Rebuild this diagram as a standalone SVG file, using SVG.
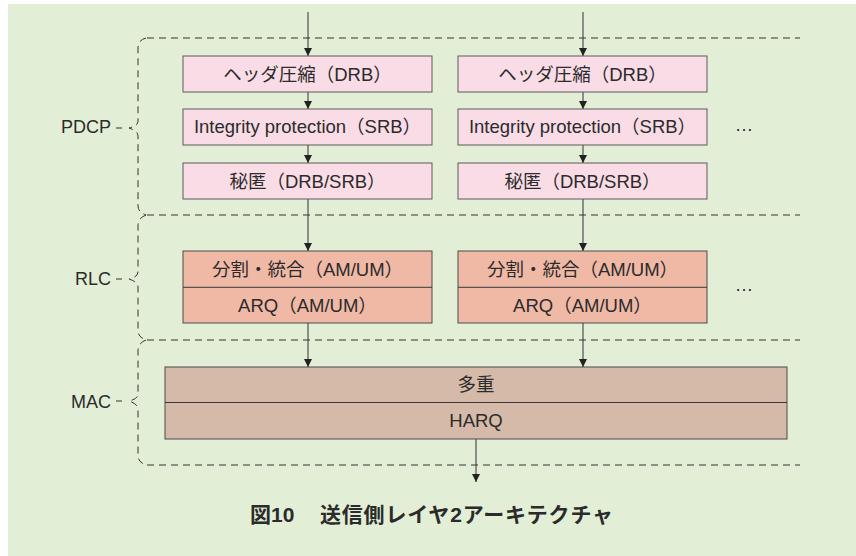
<svg xmlns="http://www.w3.org/2000/svg" width="856" height="556" viewBox="0 0 856 556">
<style>
.t{font-family:"Liberation Sans","Noto Sans CJK JP",sans-serif;font-size:18.5px;fill:#2b2b2b;text-anchor:middle}
.lbl{font-family:"Liberation Sans","Noto Sans CJK JP",sans-serif;font-size:18px;fill:#2b2b2b;text-anchor:end}
.cap{font-family:"Liberation Sans","Noto Sans CJK JP",sans-serif;font-size:21px;font-weight:bold;fill:#2b2b2b}
.pd{fill:#f9dce6;stroke:#5a5a5a;stroke-width:1}
.rl{fill:#f0b9a6;stroke:#4a4a4a;stroke-width:1}
.ma{fill:#d6baa9;stroke:#4a4a4a;stroke-width:1}
.div{stroke:#3a3a3a;stroke-width:1}
.dash{fill:none;stroke:#333;stroke-width:1;stroke-dasharray:7 5}
.arr{stroke:#333;stroke-width:1;fill:none;marker-end:url(#ah)}
</style>
<defs>
<marker id="ah" markerUnits="userSpaceOnUse" markerWidth="8" markerHeight="9" refX="8" refY="4" orient="auto">
<path d="M0,0 L8,4 L0,8 z" fill="#222"/>
</marker>
</defs>
<rect x="8" y="4" width="848" height="552" fill="#e2efd6"/>

<g id="layer-borders">
<path class="dash" d="M147 38 H800"/>
<path class="dash" d="M147 215 H800"/>
<path class="dash" d="M147 340 H800"/>
<path class="dash" d="M147 465 H800"/>
</g>

<g id="pdcp-label">
<path class="dash" d="M146 38 Q138 40 138 48 L138 121 Q138 126 129 128 Q138 131 138 136 L138 206 Q138 212 146 215"/>
<path d="M116 128 H122" stroke="#333" stroke-width="1"/>
<text class="lbl" x="111" y="133">PDCP</text>
</g>
<g id="rlc-label">
<path class="dash" d="M146 215 Q138 218 138 226 L138 272 Q138 277 129 279 Q138 282 138 287 L138 331 Q138 337 146 340"/>
<path d="M116 279 H122" stroke="#333" stroke-width="1"/>
<text class="lbl" x="111" y="285">RLC</text>
</g>
<g id="mac-label">
<path class="dash" d="M146 340 Q138 343 138 351 L138 394 Q138 399 129 401 Q138 404 138 409 L138 456 Q138 462 146 465"/>
<path d="M116 401 H122" stroke="#333" stroke-width="1"/>
<text class="lbl" x="111" y="408">MAC</text>
</g>

<g id="connectors">
<path class="arr" d="M308 12 V56"/>
<path class="arr" d="M308 92 V109"/>
<path class="arr" d="M308 145 V163"/>
<path class="arr" d="M308 199 V251"/>
<path class="arr" d="M308 323 V367"/>
<path class="arr" d="M583 12 V56"/>
<path class="arr" d="M583 92 V109"/>
<path class="arr" d="M583 145 V163"/>
<path class="arr" d="M583 199 V251"/>
<path class="arr" d="M583 323 V367"/>
<path class="arr" d="M476 439 V482"/>
</g>

<g id="hc1"><rect class="pd" x="183" y="56" width="249" height="36"/><text class="t" x="307.5" y="80.5">ヘッダ圧縮（DRB）</text></g>
<g id="ip1"><rect class="pd" x="183" y="109" width="249" height="36"/><text class="t" x="307.5" y="133">Integrity protection（SRB）</text></g>
<g id="ci1"><rect class="pd" x="183" y="163" width="249" height="36"/><text class="t" x="307.5" y="187.5">秘匿（DRB/SRB）</text></g>

<g id="hc2"><rect class="pd" x="458" y="56" width="249" height="36"/><text class="t" x="582.5" y="80.5">ヘッダ圧縮（DRB）</text></g>
<g id="ip2"><rect class="pd" x="458" y="109" width="249" height="36"/><text class="t" x="582.5" y="133">Integrity protection（SRB）</text></g>
<g id="ci2"><rect class="pd" x="458" y="163" width="249" height="36"/><text class="t" x="582.5" y="187.5">秘匿（DRB/SRB）</text></g>

<g id="pdcp-more"><text class="t" x="744" y="131">…</text></g>

<g id="rlc1">
<rect class="rl" x="183" y="251" width="249" height="72"/>
<path class="div" d="M183 287.3 H432"/>
<text class="t" x="307.5" y="275.5">分割・統合（AM/UM）</text>
<text class="t" x="307.5" y="312">ARQ（AM/UM）</text>
</g>
<g id="rlc2">
<rect class="rl" x="458" y="251" width="249" height="72"/>
<path class="div" d="M458 287.3 H707"/>
<text class="t" x="582.5" y="275.5">分割・統合（AM/UM）</text>
<text class="t" x="582.5" y="312">ARQ（AM/UM）</text>
</g>
<g id="rlc-more"><text class="t" x="744" y="291">…</text></g>

<g id="mac">
<rect class="ma" x="165" y="367" width="622" height="72"/>
<path class="div" d="M165 402.5 H787"/>
<text class="t" x="476" y="391">多重</text>
<text class="t" x="476" y="427">HARQ</text>
</g>

<g id="caption">
<text class="cap" y="522"><tspan x="250">図10</tspan><tspan x="320" letter-spacing="0.8">送信側レイヤ2アーキテクチャ</tspan></text>
</g>
</svg>
